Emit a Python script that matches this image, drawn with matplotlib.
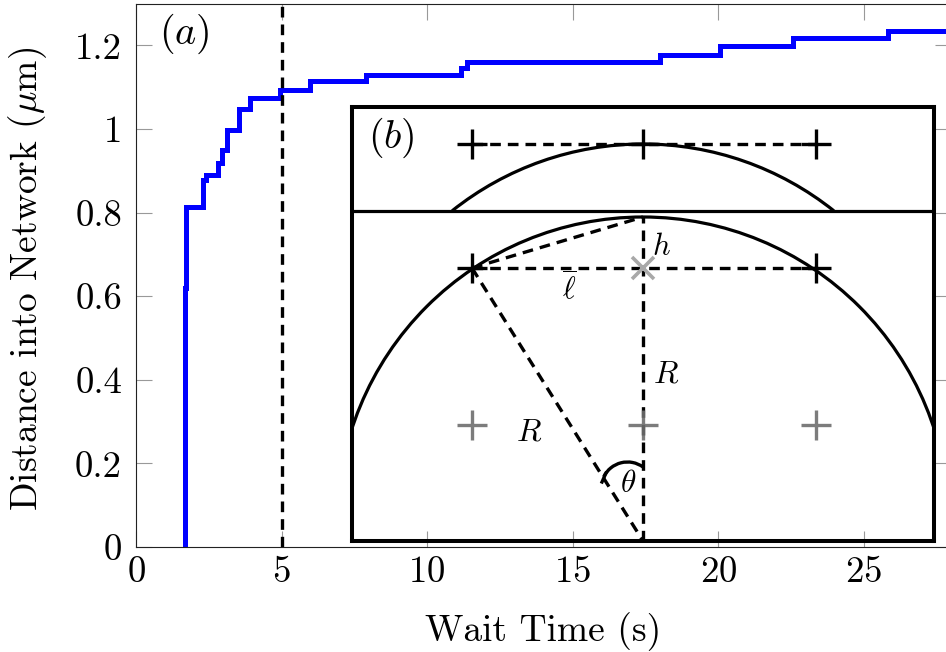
import matplotlib
matplotlib.use("Agg")
import matplotlib.pyplot as plt
from matplotlib.patches import Arc

plt.rcParams['font.family'] = ['cmr10', 'DejaVu Sans']
plt.rcParams['mathtext.fontset'] = 'cm'
plt.rcParams['axes.formatter.use_mathtext'] = True

# main curve
wait_time = [1.68, 1.68, 1.72, 1.72, 2.30, 2.30, 2.40, 2.40, 2.83, 2.83, 2.97, 2.97, 3.12, 3.12,
             3.53, 3.53, 3.90, 3.90, 4.94, 4.94, 5.98, 5.98, 7.90, 7.90, 11.16, 11.16, 11.38, 11.38,
             18.0, 18.0, 20.06, 20.06, 22.58, 22.58, 25.83, 25.83, 28.0]
distance = [0.0, 0.62, 0.62, 0.813, 0.813, 0.878, 0.878, 0.89, 0.89, 0.919, 0.919, 0.95, 0.95, 0.998,
            0.998, 1.048, 1.048, 1.074, 1.074, 1.093, 1.093, 1.116, 1.116, 1.13, 1.13, 1.145, 1.145, 1.16,
            1.16, 1.177, 1.177, 1.199, 1.199, 1.217, 1.217, 1.234, 1.234]
x_ticks = [0, 5, 10, 15, 20, 25]
y_ticks = [0, 0.2, 0.4, 0.6, 0.8, 1, 1.2]
y_tick_labels = ['0', '0.2', '0.4', '0.6', '0.8', '1', '1.2']
wait_marker = 5

# inset sketch, units are inset pixels from its lower left corner
lattice_x = [120, 291, 464]
lattice_y = [397, 273, 116]
base = (291, 0)
apex = (291, 324)
divider_y = 330
arc_center_x = 291
lower_arc_y = 18
upper_arc_y = 91
arc_radius = 306
box_w = 582
box_h = 434

W, H = 946, 652
fig = plt.figure(figsize=(W / 100, H / 100), dpi=100)
ax = fig.add_axes([136 / W, (H - 547) / H, 815 / W, 543.3 / H])
ax.plot(wait_time, distance, color='#0000ff', lw=3.6, solid_joinstyle='miter')
ax.plot([wait_marker, wait_marker], [0, 1.3], color='k', lw=2.4, dashes=(3.2, 2.1))
ax.set_xlim(0, 28)
ax.set_ylim(0, 1.3)
ax.set_xticks(x_ticks)
ax.set_yticks(y_ticks)
ax.set_yticklabels(y_tick_labels)
ax.tick_params(direction='in', length=11.5, width=0.8, color='#999999', top=True, right=True,
               labelsize=26.5, pad=6)
ax.tick_params(axis='y', pad=10)
for s in ax.spines.values():
    s.set_linewidth(0.8)
    s.set_color('#222222')
ax.set_xlabel('Wait Time (s)', fontsize=27, labelpad=17)
ax.set_ylabel(r'Distance into Network ($\mu$m)', fontsize=27, labelpad=16.5)
ax.yaxis.set_label_coords(-87 / 815, (547 - 279) / 543.3)
ax.text(23 / 815, 1 - 30 / 543.3, '$(a)$', transform=ax.transAxes, fontsize=29, ha='left', va='center')

ins = fig.add_axes([352 / W, (H - 541) / H, box_w / W, box_h / H])
ins.patch.set_alpha(0)
ins.set_xlim(0, box_w)
ins.set_ylim(0, box_h)
ins.set_xticks([])
ins.set_yticks([])
for s in ins.spines.values():
    s.set_linewidth(2.9)
    s.set_color('k')

dash = dict(color='k', lw=2.4, dashes=(3.2, 2.1))
ins.plot([lattice_x[0], lattice_x[2]], [lattice_y[0], lattice_y[0]], **dash)
ins.plot([lattice_x[0], lattice_x[2]], [lattice_y[1], lattice_y[1]], **dash)
ins.plot([lattice_x[0], apex[0]], [lattice_y[1], apex[1]], **dash)
ins.plot([lattice_x[0], base[0]], [lattice_y[1], base[1]], **dash)
ins.plot([base[0], apex[0]], [base[1], apex[1]], **dash)

ins.plot([0, box_w], [divider_y, divider_y], color='k', lw=2.3)
lower = Arc((arc_center_x, lower_arc_y), 2 * arc_radius, 2 * arc_radius, theta1=0, theta2=180, color='k', lw=2.3)
upper = Arc((arc_center_x, upper_arc_y), 2 * arc_radius, 2 * arc_radius, theta1=51.4, theta2=128.6, color='k', lw=2.3)
ins.add_patch(lower)
ins.add_patch(upper)

for yy in lattice_y[:2]:
    ins.plot(lattice_x[0], yy, '+', color='k', ms=21.6, mew=2.4)
    ins.plot(lattice_x[2], yy, '+', color='k', ms=21.6, mew=2.4)
ins.plot(lattice_x[1], lattice_y[0], '+', color='k', ms=21.6, mew=2.4)
ins.plot(lattice_x[1], lattice_y[1], 'x', color='#a8a8a8', ms=16, mew=2.6)
for xx in lattice_x:
    ins.plot(xx, lattice_y[2], '+', color='#6e6e6e', ms=21.6, mew=2.4, alpha=0.9)

ins.add_patch(Arc((275.5, 52.5), 53, 53, theta1=54, theta2=154, color='k', lw=2.4))
ins.plot([250, 254], [59, 68], color='k', lw=2.4)

ins.text(16, 403, '$(b)$', fontsize=29, ha='left', va='center')
ins.text(309, 294, '$h$', fontsize=22, ha='center', va='center')
ins.text(217, 253, r'$\overline{\ell}$', fontsize=22, ha='center', va='center')
ins.text(314, 166, '$R$', fontsize=23, ha='center', va='center')
ins.text(177, 108, '$R$', fontsize=23, ha='center', va='center')
ins.text(276, 57, r'$\theta$', fontsize=22.5, ha='center', va='center')

fig.savefig('out.png', dpi=100)
